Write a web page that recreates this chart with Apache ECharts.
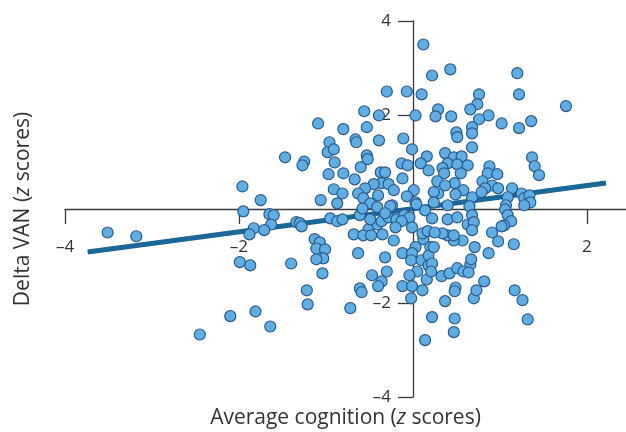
<!DOCTYPE html>
<html>
<head>
<meta charset="utf-8">
<script src="https://cdn.jsdelivr.net/npm/echarts@6/dist/echarts.min.js"></script>
<style>
  html, body { margin: 0; padding: 0; background: #fff; }
  #chart { width: 626px; height: 432px; }
</style>
</head>
<body>
<div id="chart"></div>
<script>
// average cognition (z scores), one entry per participant
const cognition = [
  -3.51, -3.18, -1.96, -1.95, -1.99, -1.87, -2.10, -2.45, -1.81, -1.64,
  -1.40, -1.22, -1.21, -1.75, -1.65, -1.60, -1.63, -1.83, -1.88, -1.71,
  -1.34, -1.30, -1.28, -1.13, -1.07, -1.11, -1.01, -1.03, -1.11, -1.04,
  -1.47, -1.25, -1.27, -1.09, -1.06, -0.95, -0.87, -0.96, -0.98, -0.91,
  -0.90, -0.97, -0.91, -0.87,
  0.12, 0.22, -0.30, -0.07, 0.10, -0.56, -0.39, 0.03, -0.80, -0.53,
  -0.66, -0.65, -0.39, -0.11, -0.01, -0.53, -0.52, -0.60, -0.80, -0.67,
  -0.37, -0.32, -0.12, -0.13, -0.06, -0.36, -0.28, -0.22, -0.45, -0.55,
  -0.63, -0.40, -0.81, 0.01, -0.07, -0.57, -0.49, 0.03, -0.24, -0.41,
  0.43, 1.20, 1.22, 0.76, 0.74, 0.66, 0.29, 0.26, 0.44, 0.87,
  1.76, 1.02, 1.22, 1.36, 0.76, 0.68, 0.68, 0.50, 0.51, 0.68,
  0.16, 0.09, 0.18, 0.37, 0.47, 0.56, 0.40, 0.51, 0.63, 0.34,
  0.36, 0.55, 0.88, 0.86, 0.97, 1.37, 1.40, 1.45, 0.28, 0.48,
  0.37, 0.80, 0.91, 0.83, 0.58, 0.29, 0.24, 0.49, 0.68, 0.79,
  0.98, 1.14, 1.25, 1.28, 1.09, 1.34, 1.35, 1.28, 0.65, 0.40,
  0.24, 1.07, 0.04, 0.14, 0.68,
  -0.81, -0.68, -0.61, -0.58, -0.26, -0.51, -0.57, -0.48, -0.35, -0.22,
  -0.41, -0.36, -0.28, -0.19, -0.10, -0.04, -0.01, -0.49, -0.32, -0.13,
  -0.20, -0.63, -0.32, -0.12, -0.30, -0.47, -0.36, -0.40, -0.61, -0.59,
  -0.72, -0.12, -0.01, 0.11, -0.02, 0.16, 0.05, -0.04, 0.03, -0.01,
  -0.02, 0.10, 0.12, 0.11, 0.17, 0.20, 0.18, 0.18, 0.22, 0.14,
  0.22,
  0.37, 0.48, 0.47, 0.49, 0.48, 0.33, 0.42, 0.70, 0.73, 0.82,
  0.87, 0.98, 0.91, 1.16, 1.17, 1.26, 1.32, 0.66, 0.67, 0.71,
  0.51, 0.58, 0.64, 0.57, 0.47, 0.40, 1.06, 1.09, 1.13, 1.05,
  1.02, 0.63, 0.70, 0.68, 0.40, 0.51, 0.34, 0.47, 0.25, 0.24,
  0.22, 0.21
];

// delta VAN (z scores), same order as cognition
const deltaVan = [
  -0.50, -0.58, 0.48, -0.05, -1.13, -1.20, -2.28, -2.67, -2.18, -2.50,
  -1.16, -1.73, -2.03, 0.19, -0.11, -0.13, -0.33, -0.41, -0.54, -0.45,
  -0.28, -0.30, -0.37, -0.64, -0.71, -0.84, -0.86, -1.05, -1.07, -1.37,
  1.10, 1.01, 0.93, 1.82, 0.19, -0.20, -0.26, 1.42, 1.21, 1.27,
  0.99, 0.74, 0.42, 0.12,
  3.50, 2.84, 2.50, 2.50, 2.44, 2.08, 1.99, 1.99, 1.70, 1.74,
  1.48, 1.42, 1.46, 1.50, 1.27, 1.14, 1.06, 0.89, 0.76, 0.63,
  0.78, 0.78, 0.65, 0.97, 0.93, 0.55, 0.53, 0.40, 0.53, 0.44,
  0.33, 0.29, 0.33, 0.40, 0.27, 0.23, 0.12, 0.14, 0.08, 0.04,
  2.97, 2.89, 2.44, 2.44, 2.23, 2.12, 2.12, 1.97, 1.97, 1.99,
  2.19, 1.82, 1.72, 1.87, 1.91, 1.74, 1.61, 1.63, 1.53, 1.31,
  1.12, 0.97, 0.82, 1.19, 1.10, 1.12, 0.97, 0.95, 0.93, 0.87,
  0.76, 0.76, 0.91, 0.76, 0.74, 1.10, 0.91, 0.72, 0.59, 0.55,
  0.50, 0.59, 0.50, 0.44, 0.40, 0.33, 0.36, 0.31, 0.25, 0.36,
  0.44, 0.44, 0.33, 0.23, 0.25, 0.29, 0.14, 0.08, 0.06, 0.08,
  0.14, 0.08, 0.10, -0.03, -0.13,
  -0.22, -0.54, -0.13, 0.01, 0.06, -0.43, -0.56, -0.56, -0.54, -0.67,
  -0.33, -0.26, -0.18, -0.22, -0.13, -0.18, -0.39, -0.22, -0.09, -0.26,
  -0.39, -0.94, -1.03, -0.94, -1.33, -1.41, -1.54, -1.64, -1.69, -1.77,
  -2.11, -1.64, -1.64, -1.73, -1.90, -1.50, -1.33, -1.41, -0.81, -0.94,
  -1.09, -1.09, -0.64, -0.52, -0.47, -0.81, -0.99, -1.20, -2.30, -2.79,
  -0.20,
  -1.96, -2.33, -2.62, -1.67, -1.75, -1.43, -1.37, -1.90, -1.73, -1.54,
  -0.94, -0.69, -0.50, -0.75, -1.73, -1.94, -2.35, -1.18, -1.07, -0.81,
  -1.26, -1.33, -1.35, -0.67, -0.67, -0.56, -0.01, -0.13, -0.26, -0.35,
  -0.37, -0.33, -0.28, -0.45, -0.22, -0.18, -0.52, -0.56, -0.50, -0.81,
  -1.16, -1.33
];

// fitted regression line endpoints
const fitX = [-3.74, 2.22];
const fitY = [-0.915, 0.551];

const xTicks = [-4, -2, 0, 2];
const yTicks = [-4, -2, 0, 2, 4];

const n = Math.min(cognition.length, deltaVan.length);
const points = [];
for (let i = 0; i < n; i++) {
  points.push([cognition[i], deltaVan[i]]);
}

const fmt = (v) => (v === 0 ? "" : (v < 0 ? "\u2013" + Math.abs(v) : String(v)));
const FONT = "'Open Sans', 'Noto Sans', sans-serif";
const AXIS_COLOR = "#3a3a3a";

// grid: left 65, right 0, top 21, bottom 35 -> zero lines sit inside the plot
const GRID = { left: 65, right: 0, top: 21, bottom: 35 };
const X_MIN = -4, X_MAX = 2.45, Y_MIN = -4, Y_MAX = 4;
const plotW = 626 - GRID.left - GRID.right;
const plotH = 432 - GRID.top - GRID.bottom;
// shift each axis so that it crosses the other at zero
const xShift = -plotH * (0 - Y_MIN) / (Y_MAX - Y_MIN);
const yShift = -plotW * (0 - X_MIN) / (X_MAX - X_MIN);

const chart = echarts.init(document.getElementById("chart"));
chart.setOption({
  animation: false,
  backgroundColor: "#fff",
  textStyle: { fontFamily: FONT },
  grid: Object.assign({ containLabel: false, outerBoundsMode: "none" }, GRID),
  xAxis: {
    type: "value",
    min: X_MIN,
    max: X_MAX,
    interval: 2,
    position: "bottom",
    offset: xShift,
    splitLine: { show: false },
    axisLine: { onZero: false, lineStyle: { color: AXIS_COLOR, width: 1.3 } },
    axisTick: { customValues: xTicks, length: 15, lineStyle: { color: AXIS_COLOR, width: 1.3 } },
    axisLabel: {
      customValues: xTicks,
      formatter: fmt,
      margin: 30,
      fontSize: 17,
      color: "#333",
      fontFamily: FONT,
    },
    name: "Average cognition ({i|z} scores)",
    nameLocation: "middle",
    nameGap: 199,
    nameTextStyle: {
      fontSize: 21,
      color: "#333",
      fontFamily: FONT,
      rich: { i: { fontSize: 21, fontStyle: "italic", color: "#333", fontFamily: FONT } },
    },
  },
  yAxis: {
    type: "value",
    min: Y_MIN,
    max: Y_MAX,
    interval: 2,
    position: "left",
    offset: yShift,
    splitLine: { show: false },
    axisLine: { onZero: false, lineStyle: { color: AXIS_COLOR, width: 1.3 } },
    axisTick: { customValues: yTicks, length: 15, lineStyle: { color: AXIS_COLOR, width: 1.3 } },
    axisLabel: {
      customValues: yTicks,
      formatter: fmt,
      margin: 22,
      fontSize: 17,
      color: "#333",
      fontFamily: FONT,
    },
    name: "Delta VAN ({i|z} scores)",
    nameLocation: "middle",
    nameGap: 379,
    nameRotate: 90,
    nameTextStyle: {
      fontSize: 21,
      color: "#333",
      fontFamily: FONT,
      rich: { i: { fontSize: 21, fontStyle: "italic", color: "#333", fontFamily: FONT } },
    },
  },
  series: [
    {
      type: "line",
      data: fitX.map((x, i) => [x, fitY[i]]),
      showSymbol: false,
      lineStyle: { color: "#1b6799", width: 5 },
      z: 2,
    },
    {
      type: "scatter",
      data: points,
      symbol: "circle",
      symbolSize: 11,
      itemStyle: { color: "#5eaee3", borderColor: "#2b5a8e", borderWidth: 1.2, opacity: 1 },
      z: 3,
    },
  ],
});
</script>
</body>
</html>
